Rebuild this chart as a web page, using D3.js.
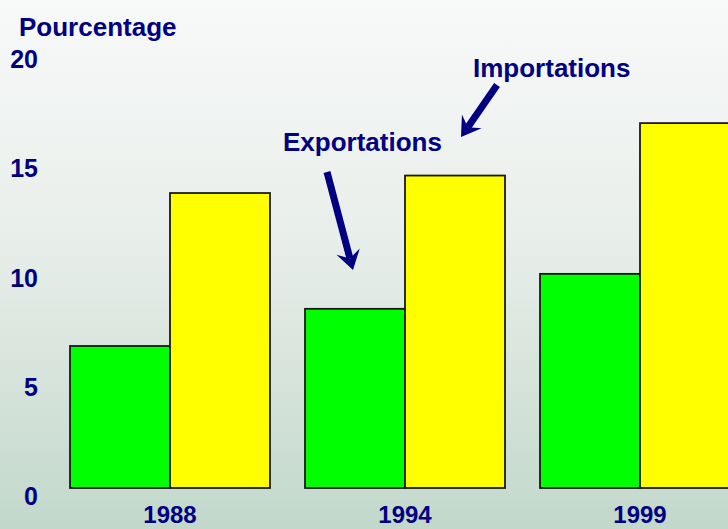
<!DOCTYPE html>
<html>
<head>
<meta charset="utf-8">
<script src="https://cdn.jsdelivr.net/npm/d3@7"></script>
<style>
  html, body { margin: 0; padding: 0; overflow: hidden; }
  svg { display: block; font-family: "Liberation Sans", Arial, sans-serif; font-weight: bold; }
</style>
</head>
<body>
<div id="chart"></div>
<script>
// Données
const years = ["1988", "1994", "1999"];
const exportations = [6.5, 8.2, 9.8];
const importations = [13.5, 14.3, 16.7];
const yTicks = [0, 5, 10, 15, 20];

const width = 728;
const height = 529;
const navy = "#000080";

const svg = d3.select("#chart").append("svg")
    .attr("width", width)
    .attr("height", height);

// fond dégradé
const defs = svg.append("defs");
const grad = defs.append("linearGradient")
    .attr("id", "bg")
    .attr("x1", 0).attr("y1", 0).attr("x2", 0).attr("y2", 1);
grad.append("stop").attr("offset", "0%").attr("stop-color", "#f8f9f9");
grad.append("stop").attr("offset", "45%").attr("stop-color", "#e8eeea");
grad.append("stop").attr("offset", "100%").attr("stop-color", "#c2d8cb");

svg.append("rect")
    .attr("width", width)
    .attr("height", height)
    .attr("fill", "url(#bg)");

const y = d3.scaleLinear().domain([0, 20]).range([488, 51]);

const x = d3.scaleBand()
    .domain(years)
    .range([70, 740])
    .paddingInner(35 / 235)
    .paddingOuter(0);

const xs = d3.scaleBand()
    .domain(["exp", "imp"])
    .range([0, x.bandwidth()]);

// étiquettes de l'axe Y
svg.append("g")
    .selectAll("text")
    .data(yTicks)
    .enter().append("text")
    .attr("x", 38)
    .attr("y", d => y(d) + 17)
    .attr("text-anchor", "end")
    .attr("font-size", 25)
    .attr("fill", navy)
    .text(d => d);

svg.append("text")
    .attr("x", 19)
    .attr("y", 36)
    .attr("font-size", 26)
    .attr("fill", navy)
    .text("Pourcentage");

// barres
const rows = years.map((yr, i) => ({ year: yr, exp: exportations[i], imp: importations[i] }));

const groups = svg.append("g")
    .selectAll("g")
    .data(rows)
    .enter().append("g")
    .attr("transform", d => `translate(${x(d.year)},0)`);

groups.selectAll("rect")
    .data(d => [{ key: "exp", v: d.exp }, { key: "imp", v: d.imp }])
    .enter().append("rect")
    .attr("x", d => xs(d.key))
    .attr("y", d => y(d.v))
    .attr("width", xs.bandwidth())
    .attr("height", d => y(0) - y(d.v))
    .attr("fill", d => d.key === "exp" ? "#00ff00" : "#ffff00")
    .attr("stroke", "#1a1a1a")
    .attr("stroke-width", 1.8);

// années (remontées juste assez pour ne pas être coupées)
svg.append("g")
    .selectAll("text")
    .data(years)
    .enter().append("text")
    .attr("x", d => x(d) + x.bandwidth() / 2)
    .attr("y", 523)
    .attr("text-anchor", "middle")
    .attr("font-size", 24)
    .attr("fill", navy)
    .text(d => d);

// annotations avec flèches
const notes = [
    { label: "Exportations", tx: 283, ty: 151, from: [327, 172], to: [353, 270] },
    { label: "Importations", tx: 473, ty: 77, from: [497, 85], to: [461, 137] }
];

notes.forEach(n => {
    svg.append("text")
        .attr("x", n.tx)
        .attr("y", n.ty)
        .attr("font-size", 26)
        .attr("fill", navy)
        .text(n.label);

    const dx = n.to[0] - n.from[0];
    const dy = n.to[1] - n.from[1];
    const len = Math.sqrt(dx * dx + dy * dy);
    const ux = dx / len, uy = dy / len;
    const px = -uy, py = ux;
    const headLen = 19, headW = 12, notch = 12;

    const sx = n.to[0] - ux * notch, sy = n.to[1] - uy * notch;
    svg.append("line")
        .attr("x1", n.from[0]).attr("y1", n.from[1])
        .attr("x2", sx).attr("y2", sy)
        .attr("stroke", navy)
        .attr("stroke-width", 7);

    const bx = n.to[0] - ux * headLen, by = n.to[1] - uy * headLen;
    const pts = [
        [n.to[0], n.to[1]],
        [bx + px * headW, by + py * headW],
        [sx, sy],
        [bx - px * headW, by - py * headW]
    ];
    svg.append("path")
        .attr("d", "M" + pts.map(p => p.join(",")).join("L") + "Z")
        .attr("fill", navy);
});
</script>
</body>
</html>
